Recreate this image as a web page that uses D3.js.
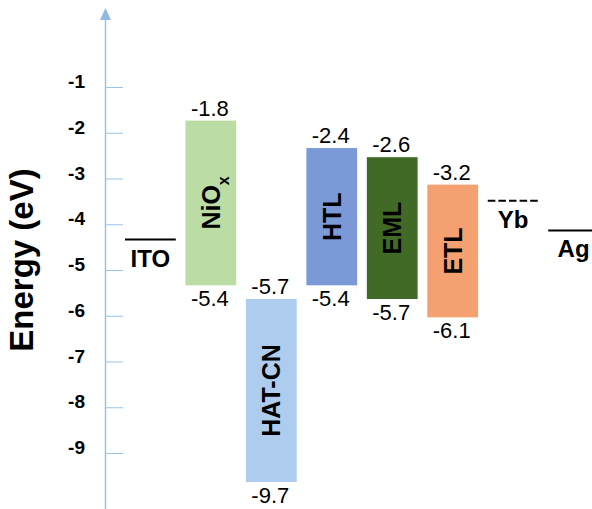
<!DOCTYPE html>
<html>
<head>
<meta charset="utf-8">
<script src="https://cdnjs.cloudflare.com/ajax/libs/d3/7.8.5/d3.min.js"></script>
<style>
  body { margin: 0; background: #fff; }
  text { font-family: Arial, "Liberation Sans", sans-serif; }
</style>
</head>
<body>
<script>
// layer order, left to right
var order = ["ITO", "NiOx", "HAT-CN", "HTL", "EML", "ETL", "Yb", "Ag"];

// transport layers: LUMO (top) and HOMO (bottom), in eV
var layerNames = ["NiOx", "HAT-CN", "HTL", "EML", "ETL"];
var lumo = [-1.8, -5.7, -2.4, -2.6, -3.2];
var homo = [-5.4, -9.7, -5.4, -5.7, -6.1];

// electrodes: work function levels
var electrodeNames = ["ITO", "Yb", "Ag"];
var workFunction = [-4.4, -3.55, -4.2];

var tickValues = [-1, -2, -3, -4, -5, -6, -7, -8, -9];

var width = 592, height = 509;

var svg = d3.select("body")
    .append("svg")
    .attr("width", width)
    .attr("height", height);

var y = d3.scaleLinear()
    .domain([-1, -9])
    .range([84, 450]);

var x = d3.scaleBand()
    .domain(order)
    .range([125, 599])
    .paddingInner(0.16);

var color = d3.scaleOrdinal()
    .domain(layerNames)
    .range(["#bbdca5", "#aecdee", "#7a99d6", "#416a27", "#f4a070"]);

var axisColor = "#9dc3e6";
var axisX = 105.5;

// vertical axis with arrow
svg.append("line")
    .attr("x1", axisX).attr("x2", axisX)
    .attr("y1", 18).attr("y2", height)
    .attr("stroke", axisColor)
    .attr("stroke-width", 1.5);

svg.append("path")
    .attr("d", "M" + (axisX - 5.5) + ",20L" + axisX + ",8L" + (axisX + 5.5) + ",20Z")
    .attr("fill", "#8fb9e2");

// ticks
svg.append("g")
    .selectAll("line")
    .data(tickValues)
    .enter()
    .append("line")
    .attr("x1", axisX)
    .attr("x2", 123)
    .attr("y1", function (d) { return y(d) + 3.5; })
    .attr("y2", function (d) { return y(d) + 3.5; })
    .attr("stroke", axisColor)
    .attr("stroke-width", 1);

svg.append("g")
    .selectAll("text")
    .data(tickValues)
    .enter()
    .append("text")
    .attr("x", 85)
    .attr("y", function (d) { return y(d) - 2.5; })
    .attr("text-anchor", "end")
    .attr("dominant-baseline", "central")
    .style("font-size", "19px")
    .style("font-weight", "bold")
    .text(function (d) { return d; });

// axis title
svg.append("text")
    .attr("transform", "translate(33,260) rotate(-90)")
    .attr("text-anchor", "middle")
    .style("font-size", "33px")
    .style("font-weight", "bold")
    .text("Energy (eV)");

// layer bars
var layers = layerNames.map(function (n, i) {
    return { name: n, top: lumo[i], bottom: homo[i] };
});

var bars = svg.append("g")
    .selectAll("g")
    .data(layers)
    .enter()
    .append("g");

bars.append("rect")
    .attr("x", function (d) { return x(d.name); })
    .attr("width", x.bandwidth())
    .attr("y", function (d) { return y(d.top); })
    .attr("height", function (d) { return y(d.bottom) - y(d.top); })
    .attr("fill", function (d) { return color(d.name); });

bars.append("text")
    .attr("x", function (d) { return x(d.name) + x.bandwidth() / 2 - 1; })
    .attr("y", function (d) { return y(d.top) - 5; })
    .attr("text-anchor", "middle")
    .style("font-size", "22px")
    .text(function (d) { return d.top; });

bars.append("text")
    .attr("x", function (d) { return x(d.name) + x.bandwidth() / 2 - 1; })
    .attr("y", function (d) { return y(d.bottom) + 21; })
    .attr("text-anchor", "middle")
    .style("font-size", "22px")
    .text(function (d) { return d.bottom; });

// rotated names inside bars
var names = bars.append("text")
    .attr("transform", function (d) {
        var cx = x(d.name) + x.bandwidth() / 2,
            cy = (y(d.top) + y(d.bottom)) / 2;
        return "translate(" + (cx + 9) + "," + cy + ") rotate(-90)";
    })
    .attr("text-anchor", "middle")
    .style("font-size", "25px")
    .style("font-weight", "bold");

names.each(function (d) {
    var t = d3.select(this);
    if (d.name === "NiOx") {
        t.append("tspan").text("NiO");
        t.append("tspan")
            .attr("baseline-shift", "sub")
            .style("font-size", "16px")
            .text("x");
    } else {
        t.text(d.name);
    }
});

// electrodes
var electrodes = electrodeNames.map(function (n, i) {
    return { name: n, level: workFunction[i] };
});

var el = svg.append("g")
    .selectAll("g")
    .data(electrodes)
    .enter()
    .append("g");

el.append("line")
    .attr("x1", function (d) { return x(d.name); })
    .attr("x2", function (d) { return x(d.name) + x.bandwidth(); })
    .attr("y1", function (d) { return y(d.level); })
    .attr("y2", function (d) { return y(d.level); })
    .attr("stroke", "#000")
    .attr("stroke-width", 2)
    .attr("stroke-dasharray", function (d) { return d.name === "Yb" ? "7.6,3" : null; });

el.append("text")
    .attr("x", function (d) { return x(d.name) + x.bandwidth() / 2; })
    .attr("y", function (d) { return y(d.level) + 27; })
    .attr("text-anchor", "middle")
    .style("font-size", "24px")
    .style("font-weight", "bold")
    .text(function (d) { return d.name; });
</script>
</body>
</html>
